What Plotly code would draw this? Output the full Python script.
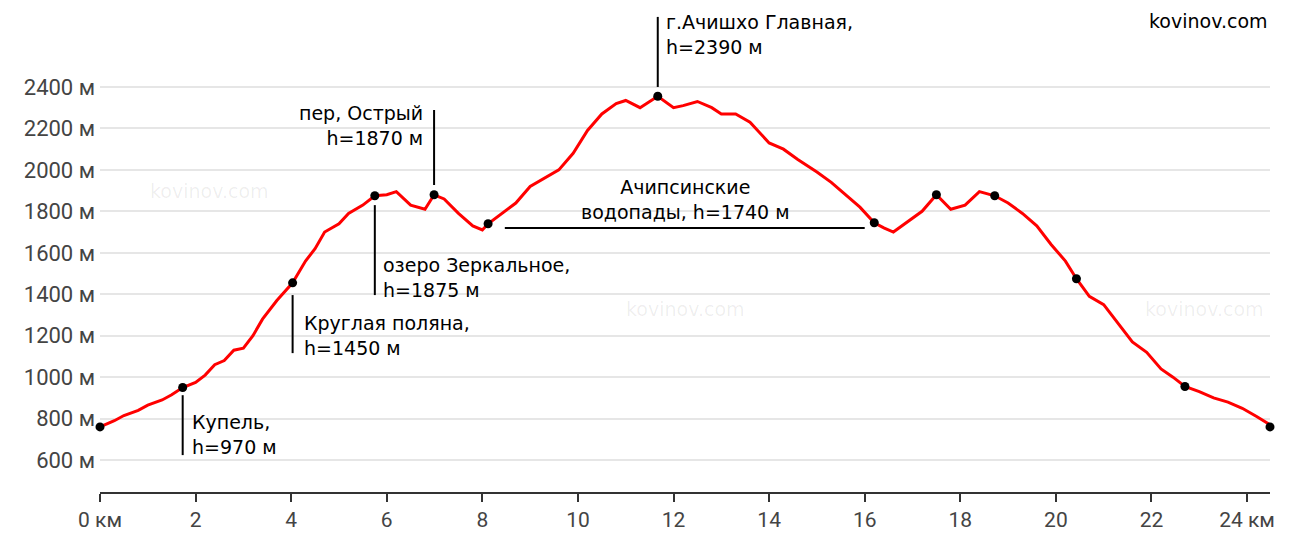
import plotly.graph_objects as go

# elevation profile (km, m)
dist = [0, 0.3, 0.5, 0.8, 1.0, 1.3, 1.5, 1.73, 2.0, 2.2, 2.4, 2.6, 2.8, 3.0, 3.2, 3.4, 3.7,
        4.03, 4.3, 4.5, 4.7, 5.0, 5.2, 5.5, 5.75, 6.0, 6.2, 6.5, 6.8, 6.99, 7.2, 7.5, 7.8,
        8.0, 8.12, 8.4, 8.7, 9.0, 9.3, 9.6, 9.9, 10.2, 10.5, 10.8, 11.0, 11.3, 11.67, 12.0,
        12.2, 12.5, 12.8, 13.0, 13.3, 13.6, 14.0, 14.3, 14.6, 15.0, 15.3, 15.6, 15.9, 16.2,
        16.4, 16.6, 16.9, 17.2, 17.5, 17.8, 18.1, 18.4, 18.72, 19.0, 19.3, 19.6, 19.9,
        20.2, 20.43, 20.7, 21.0, 21.3, 21.6, 21.9, 22.2, 22.45, 22.7, 23.0, 23.3, 23.6,
        23.9, 24.2, 24.48]
elev = [760, 790, 815, 840, 865, 890, 915, 950, 975, 1010, 1060, 1080, 1130, 1140, 1200, 1280, 1370,
        1455, 1560, 1620, 1700, 1740, 1790, 1830, 1875, 1880, 1895, 1830, 1810, 1880, 1860, 1790, 1730,
        1710, 1740, 1790, 1840, 1920, 1960, 2000, 2080, 2190, 2270, 2320, 2335, 2300, 2355, 2300,
        2310, 2330, 2300, 2270, 2270, 2230, 2130, 2100, 2050, 1990, 1940, 1880, 1820, 1745,
        1720, 1700, 1750, 1800, 1880, 1810, 1830, 1895, 1875, 1840, 1790, 1730, 1640,
        1560, 1475, 1390, 1350, 1260, 1170, 1120, 1040, 1000, 955, 930, 900, 880,
        850, 810, 770]

pt_x = [0, 1.73, 4.03, 5.75, 6.99, 8.12, 11.67, 16.2, 17.5, 18.72, 20.43, 22.7, 24.48]
pt_y = [760, 950, 1455, 1875, 1880, 1740, 2355, 1745, 1880, 1875, 1475, 955, 760]

x_ticks = [0, 2, 4, 6, 8, 10, 12, 14, 16, 18, 20, 22, 24]
x_labels = ["0 км"] + [str(v) for v in x_ticks[1:-1]] + ["24 км"]
y_ticks = [600, 800, 1000, 1200, 1400, 1600, 1800, 2000, 2200, 2400]
y_labels = [f"{v} м" for v in y_ticks]

fig = go.Figure()
fig.add_trace(go.Scatter(x=dist, y=elev, mode="lines", line=dict(color="#ff0000", width=3), cliponaxis=False))
fig.add_trace(go.Scatter(x=pt_x, y=pt_y, mode="markers", marker=dict(color="black", size=9), cliponaxis=False))

# label leader lines
for x0, y0, x1, y1 in [(1.73, 913, 1.73, 624), (4.03, 1396, 4.03, 1116), (5.75, 1830, 5.75, 1396),
                       (6.99, 2289, 6.99, 1927), (8.47, 1720, 16.0, 1720), (11.67, 2738, 11.67, 2400)]:
    fig.add_shape(type="line", x0=x0, y0=y0, x1=x1, y1=y1, line=dict(color="black", width=2))

afont = dict(family="DejaVu Sans, Verdana", size=19, color="black")
labels = [
    (1.88, 845, "Купель,<br>h=970 м", "left", "left"),
    (4.22, 1325, "Круглая поляна,<br>h=1450 м", "left", "left"),
    (5.88, 1605, "озеро Зеркальное,<br>h=1875 м", "left", "left"),
    (6.8, 2335, "пер, Острый<br>h=1870 м", "right", "right"),
    (11.8, 2775, "г.Ачишхо Главная,<br>h=2390 м", "left", "left"),
]
for x, y, t, xa, al in labels:
    fig.add_annotation(x=x, y=y, text=t, showarrow=False, xanchor=xa, yanchor="top", align=al, font=afont)
fig.add_annotation(x=12.24, y=1980, text="Ачипсинские<br>водопады, h=1740 м", showarrow=False,
                   xanchor="center", yanchor="top", align="center", font=afont)
fig.add_annotation(x=1, y=1, xref="paper", yref="paper", text="kovinov.com", showarrow=False,
                   xanchor="right", yanchor="top", font=afont)
for x, y in [(2.3, 1900), (12.24, 1330), (23.1, 1330)]:
    fig.add_annotation(x=x, y=y, text="kovinov.com", showarrow=False,
                       font=dict(family="DejaVu Sans", size=19, color="rgba(0,0,0,0.07)"))

fig.update_layout(
    width=1293, height=548, showlegend=False,
    plot_bgcolor="white", paper_bgcolor="white",
    margin=dict(l=92, r=31, t=0, b=64, autoexpand=False),
    xaxis=dict(range=[0, 24.48], tickvals=x_ticks, ticktext=x_labels, showgrid=False, zeroline=False,
               showline=True, linecolor="#333", linewidth=2, ticks="outside", ticklen=8, tickwidth=2,
               tickcolor="#333", automargin=False, tickfont=dict(family="Roboto", size=21, color="#444")),
    yaxis=dict(range=[446, 2781], tickvals=y_ticks, ticktext=y_labels, showgrid=True, gridcolor="#e6e6e6",
               gridwidth=2, zeroline=False, showline=False, ticks="", ticklabelstandoff=4, automargin=False,
               tickfont=dict(family="Roboto", size=22, color="#444")),
)
fig.write_html("out.html")
